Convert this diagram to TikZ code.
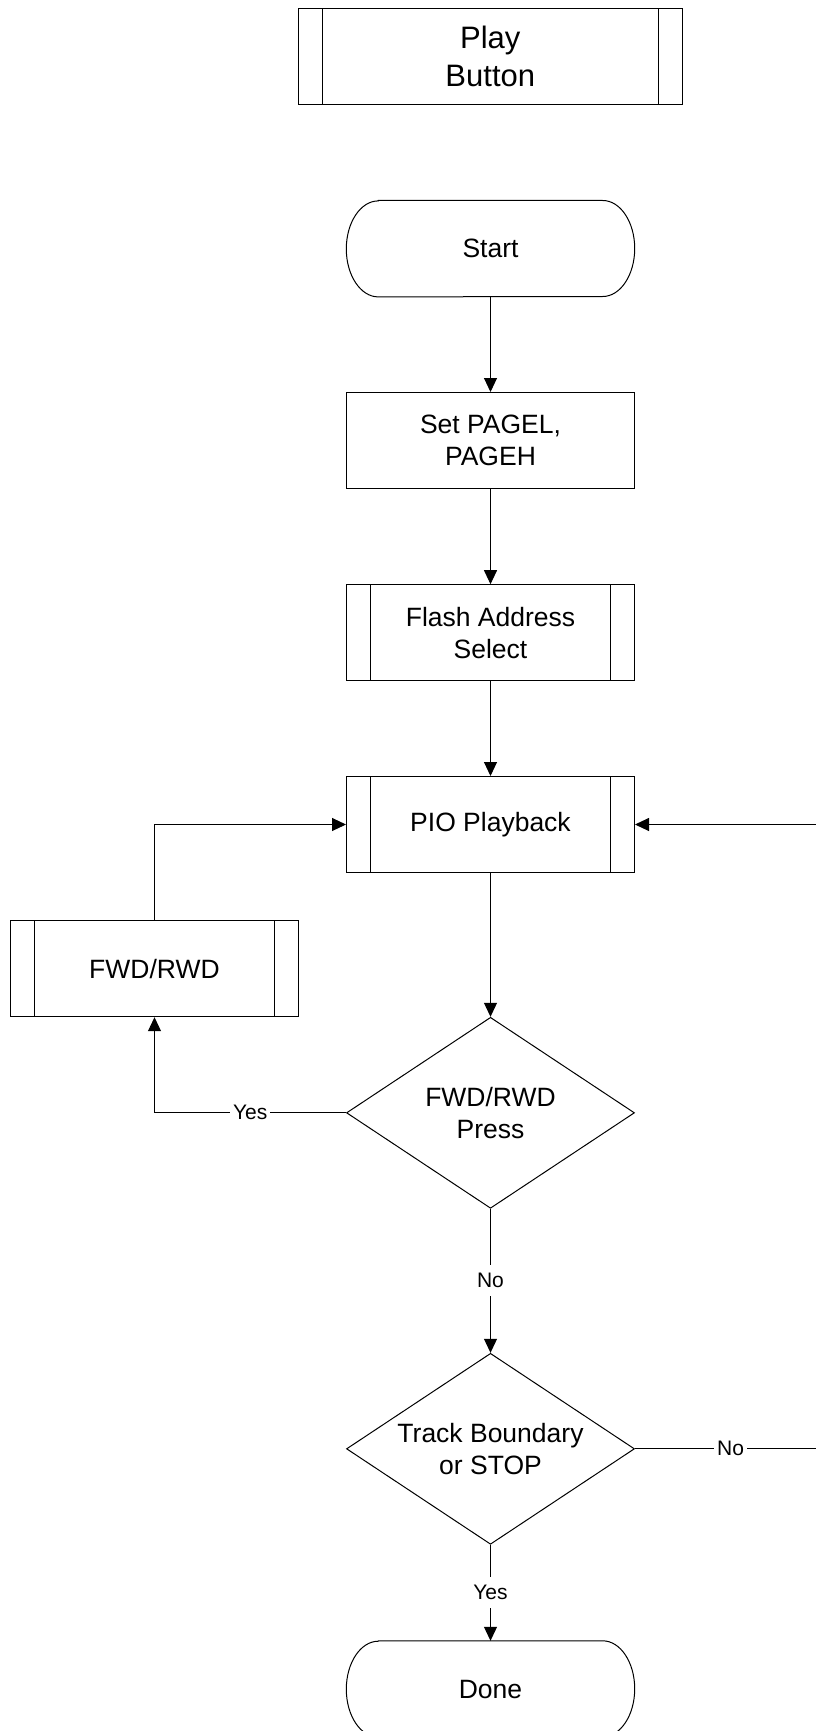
\documentclass[tikz,border=0pt]{standalone}
\usepackage{fontspec}
\setmainfont{Liberation Sans}
\usetikzlibrary{arrows.meta,shapes.geometric}

\tikzset{
  boxfont/.style={font=\fontsize{26.5}{31.8}\selectfont},
  procbox/.style={draw, rectangle, line width=1pt, minimum width=288pt,
    minimum height=96pt, inner sep=0pt, align=center, boxfont},
  subbox/.style={procbox, path picture={
      \draw[line width=1pt]
        ([xshift=24pt]path picture bounding box.north west) --
        ([xshift=24pt]path picture bounding box.south west)
        ([xshift=-24pt]path picture bounding box.north east) --
        ([xshift=-24pt]path picture bounding box.south east);}},
  termbox/.style={rectangle, minimum width=288pt, minimum height=96pt,
    inner sep=0pt, align=center, boxfont},
  decision/.style={draw, diamond, line width=1pt, aspect=1.5, inner sep=0pt,
    minimum width=288pt, minimum height=191pt, align=center, boxfont},
  flow/.style={line width=1pt, -{Triangle[length=14pt,width=13pt]}},
  lbl/.style={fill=white, inner xsep=3pt, inner ysep=0pt, minimum height=31pt,
    font=\fontsize{21}{25}\selectfont},
}

% outline of a terminator: straight top and bottom, elliptical ends
\newcommand{\termoutline}[1]{%
  \draw[line width=1pt]
    ([xshift=32pt]#1.north west) -- ([xshift=-32pt]#1.north east)
    arc[start angle=90, end angle=-90, x radius=32pt, y radius=48pt]
    -- ([xshift=32pt]#1.south west)
    arc[start angle=270, end angle=90, x radius=32pt, y radius=48pt]
    -- cycle;}

\begin{document}
\begin{tikzpicture}[x=1pt,y=-1pt]
\useasboundingbox (0,0) rectangle (816,1731);

% main column
\node[subbox, minimum width=384pt, font=\fontsize{31}{38}\selectfont]
  (play) at (490.3,56.3) {Play\\Button};
\node[termbox] (start) at (490.5,248.7) {Start};
\termoutline{start}
\node[procbox] (pages) at (490.5,440.5) {Set PAGEL,\\PAGEH};
\node[subbox] (flash) at (490.5,632.7) {Flash Address\\Select};
\node[subbox] (pio) at (490.5,824.5) {PIO Playback};
\node[decision] (press) at (490.5,1112.8) {FWD/RWD\\Press};
\node[decision] (track) at (490.5,1448.8) {Track Boundary\\or STOP};
\node[termbox] (done) at (490.5,1689) {Done};
\termoutline{done}

% side branch
\node[subbox] (fwd) at (154.5,968.7) {FWD/RWD};

% return point of the right-hand loop
\coordinate (loop) at (826,1448.8);

% connectors
\draw[flow] (start.south) -- (pages.north);
\draw[flow] (pages.south) -- (flash.north);
\draw[flow] (flash.south) -- (pio.north);
\draw[flow] (pio.south) -- (press.north);
\draw[flow] (press.south) -- node[lbl] {No} (track.north);
\draw[flow] (track.south) -- node[lbl] {Yes} (done.north);
\draw[flow] (press.west) -| node[lbl, pos=0.25] {Yes} (fwd.south);
\draw[flow] (fwd.north) |- (pio.west);
\draw[flow] (track.east) -- node[lbl] {No} (loop) |- (pio.east);
\end{tikzpicture}
\end{document}
